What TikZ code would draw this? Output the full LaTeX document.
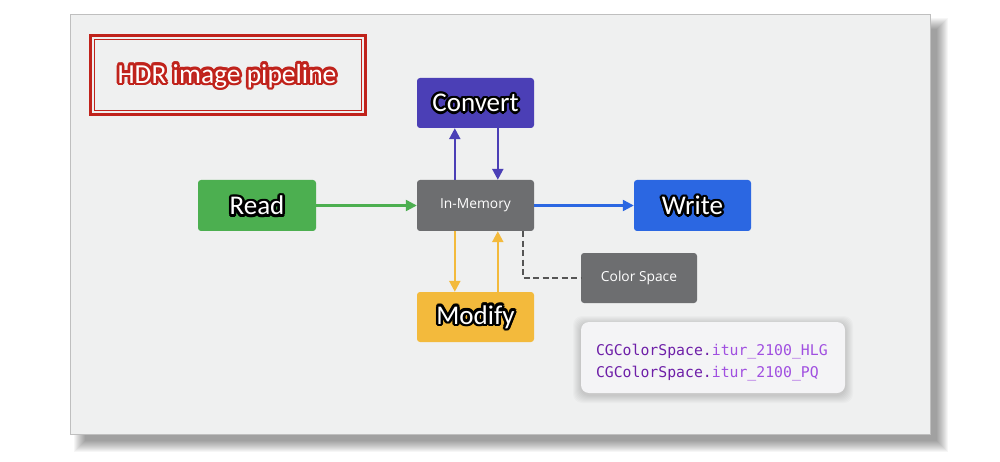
\documentclass[tikz,border=0pt]{standalone}
\usepackage{fontspec}
\setmainfont{Carlito}
\newfontfamily\uifont{Open Sans}
\newfontfamily\codefont{DejaVu Sans Mono}
\usetikzlibrary{arrows.meta}
\definecolor{slidebg}{HTML}{EFF0F0}
\definecolor{titlered}{HTML}{C0231C}
\definecolor{convcol}{HTML}{4B3FB6}
\definecolor{readcol}{HTML}{4CAF50}
\definecolor{writecol}{HTML}{2B67E2}
\definecolor{modcol}{HTML}{F3BA3C}
\definecolor{graycol}{HTML}{6D6E70}
\definecolor{codebg}{HTML}{F4F4F6}
\definecolor{codedark}{HTML}{6E1FA8}
\definecolor{codelight}{HTML}{A04FE0}
\definecolor{dashcol}{HTML}{555555}
\newcommand\glowring[3]{\leavevmode\rlap{\color{#1}\foreach \a in {0,30,...,330}{%
  \pgfmathsetlengthmacro\gx{#2*cos(\a)}\pgfmathsetlengthmacro\gy{#2*sin(\a)}%
  \rlap{\kern\gx\raisebox{\gy}{#3}}}}}
\newcommand\glowtext[2]{\glowring{#1}{2.6pt}{#2}\glowring{#1}{1.3pt}{#2}#2}
\tikzset{
  box/.style={rounded corners=3pt, minimum width=117pt, minimum height=50pt, inner sep=0pt, text=white, font=\fontsize{27}{30}\selectfont},
  smallbox/.style={box, fill=graycol, font=\uifont\fontsize{13.8}{16}\selectfont},
  flow/.style={line width=2.3pt, -{Triangle[length=11pt,width=11pt]}},
}
\begin{document}
\begin{tikzpicture}[x=1pt,y=-1pt]
\useasboundingbox (0,0) rectangle (1000,462);
\fill[white] (0,0) rectangle (1000,462);
% slide shadow
\foreach \k in {0,...,11}{
  \fill[black,opacity=0.035] (74+\k,18+\k) rectangle (948-\k,452-\k);
}
\fill[slidebg] (70,14) rectangle (930,434);
\draw[black!25,line width=0.6pt] (70,14) rectangle (930,434);
% title
\draw[titlered,line width=3pt] (90,36) rectangle (365,115);
\draw[titlered,line width=1pt] (94,40) rectangle (361,111);
\node[text=white,font=\fontsize{27.5}{30}\selectfont] (title) at (227,76) {\glowtext{titlered}{HDR image pipeline}};
% boxes
\node[box,fill=convcol] (conv) at (475.5,103) {\glowtext{black}{Convert}};
\node[box,fill=readcol,minimum width=118pt,minimum height=51pt] (read) at (257,205.5) {\glowtext{black}{Read}};
\node[smallbox,minimum height=51pt] (inmem) at (475.5,205.5) {In-Memory};
\node[box,fill=writecol,minimum height=51pt] (write) at (692.5,205.5) {\glowtext{black}{Write}};
\node[box,fill=modcol] (modify) at (475.5,317) {\glowtext{black}{Modify}};
\node[smallbox,minimum width=116pt] (cs) at (639,278) {Color Space};
% code box shadow
\foreach \k in {0,...,7}{
  \fill[black,opacity=0.018,rounded corners=9pt] (573+\k,316+\k) rectangle (853-\k,403-\k);
}
\node[fill=codebg,rounded corners=8pt,minimum width=264pt,minimum height=71pt,text width=234pt,inner xsep=15pt,inner ysep=0pt,align=left,font=\codefont\fontsize{14.8}{22}\selectfont] (code) at (713,357.5)
  {\rule{0pt}{21pt}\textcolor{codedark}{CGColorSpace.}\textcolor{codelight}{itur\_2100\_HLG}\\
   \textcolor{codedark}{CGColorSpace.}\textcolor{codelight}{itur\_2100\_PQ}};
% connectors
\draw[flow,readcol] (read.east) -- (inmem.west);
\draw[flow,writecol] (inmem.east) -- (write.west);
\draw[flow,convcol] ([xshift=38pt]inmem.north west) -- ([xshift=38pt]conv.south west);
\draw[flow,convcol] ([xshift=81pt]conv.south west) -- ([xshift=81pt]inmem.north west);
\draw[flow,modcol] ([xshift=38pt]inmem.south west) -- ([xshift=38pt]modify.north west);
\draw[flow,modcol] ([xshift=81pt]modify.north west) -- ([xshift=81pt]inmem.south west);
\draw[dashcol,line width=2pt,dash pattern=on 6pt off 3.5pt] ([xshift=106pt]inmem.south west) |- (cs.west);
\end{tikzpicture}
\end{document}
